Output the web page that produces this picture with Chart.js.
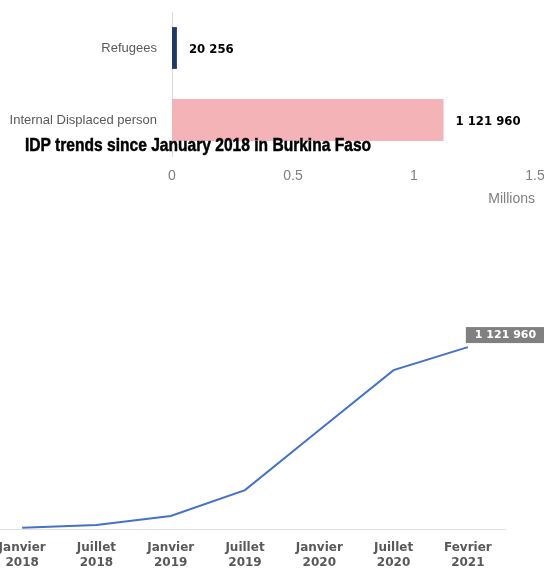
<!DOCTYPE html>
<html>
<head>
<meta charset="utf-8">
<script src="https://cdn.jsdelivr.net/npm/chart.js@4.4.0/dist/chart.umd.min.js"></script>
<style>
    body { margin: 0; background: #fff; width: 544px; height: 568px; overflow: hidden; position: relative; }
    #barBox { position: absolute; left: 0; top: 0; width: 544px; height: 210px; }
    #lineBox { position: absolute; left: -15px; top: 210px; width: 559px; height: 358px; }
    #title {
        position: absolute; left: 25px; top: 134px;
        font: bold 19px "Liberation Sans", Arial, sans-serif;
        color: #000; white-space: nowrap;
        -webkit-text-stroke: 0.5px #000;
        transform: scaleX(0.82); transform-origin: 0 0;
    }
</style>
</head>
<body>
<div id="barBox"><canvas id="barChart"></canvas></div>
<div id="lineBox"><canvas id="lineChart"></canvas></div>
<div id="title">IDP trends since January 2018 in Burkina Faso</div>
<script>
// top chart
const barCategories = ['Refugees', 'Internal Displaced person'];
const barValues = [20256, 1121960];
const barColors = ['#1f3864', '#f4b3b6'];

// bottom chart
const months = [
    ['Janvier', '2018'], ['Juillet', '2018'], ['Janvier', '2019'], ['Juillet', '2019'],
    ['Janvier', '2020'], ['Juillet', '2020'], ['Fevrier', '2021']
];
const idpValues = [8000, 25000, 80000, 240000, 610000, 980000, 1121960];

function fmt(n) {
    return n.toString().replace(/\B(?=(\d{3})+(?!\d))/g, ' ');
}

const barLabels = {
    id: 'barLabels',
    afterDatasetsDraw(chart) {
        const ctx = chart.ctx;
        const meta = chart.getDatasetMeta(0);
        ctx.save();
        ctx.font = 'bold 13px "DejaVu Sans Condensed", sans-serif';
        ctx.fillStyle = '#000';
        ctx.textBaseline = 'middle';
        meta.data.forEach(function (bar, i) {
            ctx.fillText(fmt(barValues[i]), bar.x + 12, bar.y + 2);
        });
        ctx.restore();
    }
};

const lastLabel = {
    id: 'lastLabel',
    afterDatasetsDraw(chart) {
        const ctx = chart.ctx;
        const meta = chart.getDatasetMeta(0);
        const i = meta.data.length - 1;
        const pt = meta.data[i];
        const text = fmt(idpValues[i]);
        ctx.save();
        ctx.font = 'bold 11px "DejaVu Sans", sans-serif';
        const w = ctx.measureText(text).width;
        ctx.fillStyle = '#808080';
        ctx.fillRect(pt.x - 2, pt.y - 20, w + 18, 16);
        ctx.fillStyle = '#fff';
        ctx.textBaseline = 'middle';
        ctx.fillText(text, pt.x + 7, pt.y - 12);
        ctx.restore();
    }
};

window.onload = function () {
    new Chart(document.getElementById('barChart').getContext('2d'), {
        type: 'bar',
        data: {
            labels: barCategories,
            datasets: [{
                data: barValues,
                backgroundColor: barColors,
                categoryPercentage: 1,
                barPercentage: 0.58
            }]
        },
        options: {
            indexAxis: 'y',
            responsive: true,
            maintainAspectRatio: false,
            animation: false,
            layout: { padding: { top: 12, right: 9, bottom: 0, left: 0 } },
            plugins: { legend: { display: false }, tooltip: { enabled: false } },
            scales: {
                x: {
                    min: 0,
                    max: 1500000,
                    grid: { display: false, drawTicks: false },
                    border: { display: false },
                    ticks: {
                        stepSize: 500000,
                        callback: v => v / 1000000,
                        color: '#7f7f7f',
                        font: { family: 'Liberation Sans', size: 14 },
                        padding: 12
                    },
                    title: {
                        display: true,
                        text: 'Millions',
                        align: 'end',
                        color: '#7f7f7f',
                        font: { family: 'Liberation Sans', size: 14 },
                        padding: { top: 0, bottom: 2 }
                    },
                    afterFit: s => { s.height = 54; s.paddingLeft = 0; s.paddingRight = 0; }
                },
                y: {
                    grid: { display: false, drawTicks: false },
                    border: { display: true, color: '#d9d9d9' },
                    ticks: {
                        color: '#595959',
                        font: { family: 'Liberation Sans', size: 13 },
                        padding: 15
                    },
                    afterFit: s => { s.width = 172; s.paddingTop = 0; s.paddingBottom = 0; }
                }
            }
        },
        plugins: [barLabels]
    });

    new Chart(document.getElementById('lineChart').getContext('2d'), {
        type: 'line',
        data: {
            labels: months,
            datasets: [{
                data: idpValues,
                borderColor: '#4472c4',
                borderWidth: 2,
                pointRadius: 0,
                tension: 0,
                fill: false
            }]
        },
        options: {
            responsive: true,
            maintainAspectRatio: false,
            animation: false,
            layout: { padding: { top: 92, right: 39, bottom: 0, left: 0 } },
            plugins: { legend: { display: false }, tooltip: { enabled: false } },
            scales: {
                x: {
                    offset: true,
                    grid: { display: false, drawTicks: false },
                    border: { display: true, color: '#e3e3e3', width: 1 },
                    ticks: {
                        color: '#595959',
                        font: { family: 'DejaVu Sans', size: 12, weight: 'bold', lineHeight: 1.25 },
                        padding: 11,
                        maxRotation: 0,
                        autoSkip: false
                    },
                    afterFit: s => { s.height = 39; s.paddingLeft = 0; s.paddingRight = 0; }
                },
                y: {
                    display: false,
                    min: 0,
                    max: 1400000
                }
            }
        },
        plugins: [lastLabel]
    });
};
</script>
</body>
</html>
